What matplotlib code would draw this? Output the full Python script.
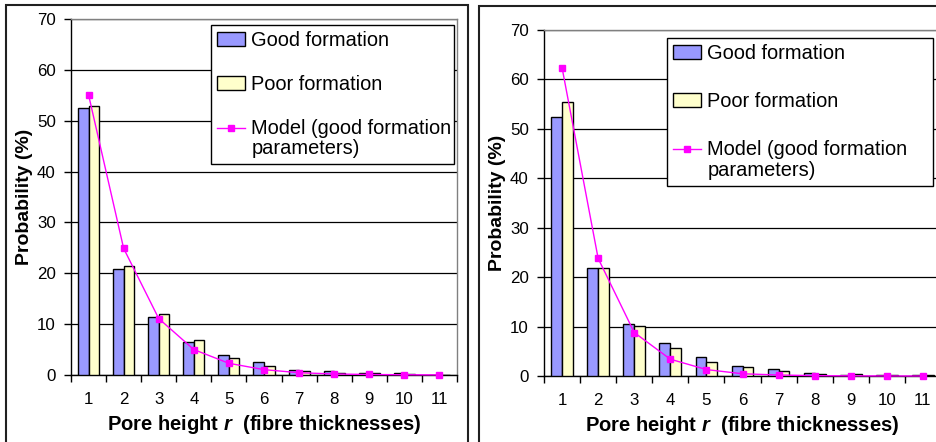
import matplotlib
matplotlib.use("Agg")
import matplotlib.pyplot as plt
import numpy as np
from matplotlib.patches import Rectangle
from matplotlib.ticker import FixedLocator, NullFormatter
from matplotlib.legend_handler import HandlerLine2D

plt.rcParams['font.family'] = ['Liberation Sans', 'DejaVu Sans']
plt.rcParams['mathtext.fontset'] = 'custom'
plt.rcParams['mathtext.it'] = 'Liberation Sans:italic:bold'
plt.rcParams['mathtext.rm'] = 'Liberation Sans:bold'

categories = [1, 2, 3, 4, 5, 6, 7, 8, 9, 10, 11]
y_ticks = [0, 10, 20, 30, 40, 50, 60, 70]

left_good = [52.5, 20.8, 11.4, 6.4, 3.9, 2.5, 1.05, 0.7, 0.45, 0.3, 0.05]
left_poor = [52.8, 21.4, 11.9, 6.8, 3.4, 1.8, 0.85, 0.45, 0.4, 0.2, 0.05]
left_model = [55.1, 24.9, 11.1, 5.0, 2.3, 1.05, 0.45, 0.2, 0.1, 0.05, 0.02]

right_good = [52.4, 21.8, 10.6, 6.6, 3.8, 2.1, 1.35, 0.7, 0.3, 0.2, 0.2]
right_poor = [55.5, 21.8, 10.2, 5.7, 2.8, 1.75, 1.1, 0.5, 0.4, 0.2, 0.3]
right_model = [62.4, 23.8, 8.8, 3.4, 1.3, 0.45, 0.2, 0.07, 0.03, 0.01, 0.0]

labels = ["Good formation", "Poor formation", "Model (good formation\nparameters)"]
xlabel = "Pore height $\\mathit{r}$  (fibre thicknesses)"
ylabel = "Probability (%)"

W, H = 936, 442
fig = plt.figure(figsize=(W / 100, H / 100), dpi=100)


def fx(px):
    return px / W


def fy(py):
    return 1 - py / H


class UpHandler(HandlerLine2D):
    def __init__(self, shift, **kw):
        super().__init__(**kw)
        self.shift = shift

    def create_artists(self, legend, orig_handle, xdescent, ydescent, width, height, fontsize, trans):
        return super().create_artists(legend, orig_handle, xdescent, ydescent - 2 * self.shift,
                                      width, height, fontsize, trans)


def draw_panel(ax_rect, good, poor, model, legend_box, ylabel_x, lspacing, pspace):
    x0, y0, x1, y1 = ax_rect
    ax = fig.add_axes([fx(x0), fy(y1), fx(x1 - x0), fy(y0) - fy(y1)])
    x = np.array(categories, dtype=float)
    w = 0.3
    b1 = ax.bar(x - w / 2, good, width=w, color='#9999FF', edgecolor='black', linewidth=1.0, zorder=3)
    b2 = ax.bar(x + w / 2, poor, width=w, color='#FFFFCC', edgecolor='black', linewidth=1.0, zorder=3)
    ln, = ax.plot(x, model, color='#FF00FF', lw=1.0, marker='s', markersize=5,
                  markerfacecolor='#FF00FF', markeredgecolor='#FF00FF', zorder=4, clip_on=False)
    ax.set_xlim(0.5, 11.5)
    ax.set_ylim(0, 70)
    ax.set_yticks(y_ticks)
    ax.set_xticks(categories)
    ax.set_xticklabels([str(c) for c in categories])
    ax.xaxis.set_minor_locator(FixedLocator(np.arange(0.5, 12.0, 1.0)))
    ax.xaxis.set_minor_formatter(NullFormatter())
    ax.tick_params(axis='x', which='major', length=0, pad=12.5, labelsize=12.2)
    ax.tick_params(axis='x', which='minor', length=5, width=1, direction='out', color='black')
    ax.tick_params(axis='y', which='major', length=5, width=1, direction='out', pad=6, labelsize=12.2)
    ax.grid(axis='y', color='black', lw=0.9, zorder=0)
    for s in ['left', 'bottom']:
        ax.spines[s].set_color('black')
        ax.spines[s].set_linewidth(1.0)
    for s in ['top', 'right']:
        ax.spines[s].set_color('#808080')
        ax.spines[s].set_linewidth(1.0)
    ax.set_xlabel(xlabel, fontsize=14.5, fontweight='bold', labelpad=4)
    ax.set_ylabel(ylabel, fontsize=14, fontweight='bold')
    ax.yaxis.set_label_coords((ylabel_x + 10 - x0) / (x1 - x0), 0.5, transform=ax.transAxes)
    lx0, ly0, lx1, ly1 = legend_box
    leg = ax.legend([b1, b2, ln], labels, loc='upper left', mode='expand',
                    bbox_to_anchor=(fx(lx0), fy(ly1), fx(lx1 - lx0), fy(ly0) - fy(ly1)),
                    bbox_transform=fig.transFigure,
                    handler_map={ln: UpHandler(8.0)},
                    fontsize=14.4, frameon=True, fancybox=False, framealpha=1,
                    edgecolor='black', borderpad=0.3, labelspacing=lspacing,
                    handlelength=1.4, handletextpad=0.32, borderaxespad=0)
    leg.get_frame().set_linewidth(1.0)
    leg.get_texts()[2].set_linespacing(pspace)
    leg.set_zorder(10)
    return ax


draw_panel((71, 19, 457, 375), left_good, left_poor, left_model, (211, 25, 454, 163), 23, 1.25, 1.05)
draw_panel((544, 30, 941, 376), right_good, right_poor, right_model, (667, 38, 933, 185), 496, 1.45, 1.12)

# outer chart-area frames
fig.patches.append(Rectangle((fx(6), fy(460)), fx(468 - 6), fy(5) - fy(460),
                             transform=fig.transFigure, fill=False, edgecolor='#202020', lw=1.5))
fig.patches.append(Rectangle((fx(479), fy(460)), fx(960 - 479), fy(6) - fy(460),
                             transform=fig.transFigure, fill=False, edgecolor='#202020', lw=1.5))

fig.savefig('out.png', dpi=100)
